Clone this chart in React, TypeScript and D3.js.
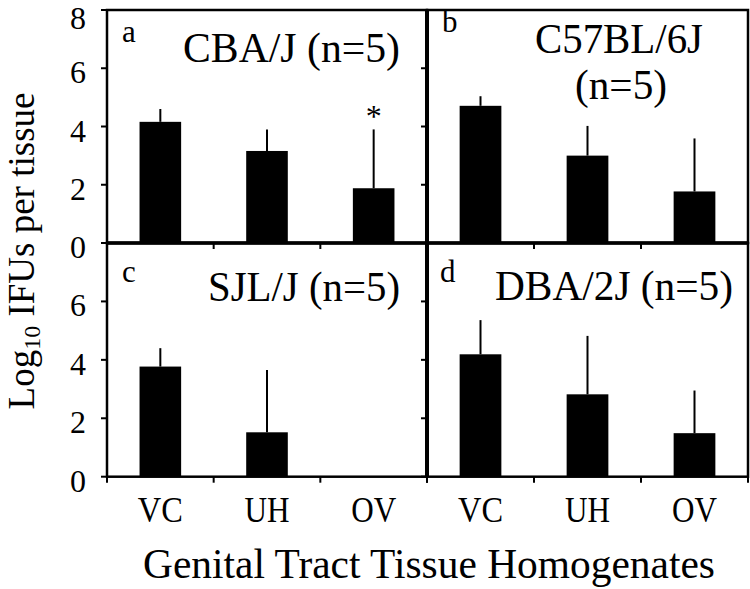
import React from "react";
import * as d3 from "d3";

const categories = ["VC", "UH", "OV"];
const panelLetters = ["a", "b", "c", "d"];
const panelTitles = [["CBA/J (n=5)"], ["C57BL/6J", "(n=5)"], ["SJL/J (n=5)"], ["DBA/2J (n=5)"]];
const cbaMeans = [4.16, 3.16, 1.88];
const cbaErrors = [0.44, 0.74, 2.02];
const c57Means = [4.71, 3.0, 1.77];
const c57Errors = [0.33, 1.02, 1.82];
const sjlMeans = [3.77, 1.52, 0];
const sjlErrors = [0.63, 2.13, 0];
const dbaMeans = [4.19, 2.82, 1.49];
const dbaErrors = [1.17, 2.0, 1.46];
const significant = [[false, false, true], [false, false, false], [false, false, false], [false, false, false]];
const yDomain = [0, 8];
const xAxisTitle = "Genital Tract Tissue Homogenates";

const means = [cbaMeans, c57Means, sjlMeans, dbaMeans];
const errors = [cbaErrors, c57Errors, sjlErrors, dbaErrors];

// layout
const W = 750, H = 589;
const X0 = 107, XM = 427, X1 = 748;
const Y0 = 10, YM = 243, Y1 = 476.7;
const geom = [
  { x0: X0, x1: XM, y0: Y0, y1: YM, col: 0, row: 0 },
  { x0: XM, x1: X1, y0: Y0, y1: YM, col: 1, row: 0 },
  { x0: X0, x1: XM, y0: YM, y1: Y1, col: 0, row: 1 },
  { x0: XM, x1: X1, y0: YM, y1: Y1, col: 1, row: 1 },
];
const letterPos = [
  { dx: 15, dy: 32 },
  { dx: 15, dy: 22 },
  { dx: 15, dy: 39 },
  { dx: 13, dy: 39 },
];
const titlePos = [
  [{ cx: 184.5, dy: 52, len: 217 }],
  [{ cx: 192, dy: 43, len: 168 }, { cx: 194, dy: 89, len: 92 }],
  [{ cx: 197, dy: 58, len: 192 }],
  [{ cx: 187, dy: 57, len: 238 }],
];
const FONT = "'Liberation Serif', 'Times New Roman', Times, serif";
const tStyle = { fontFamily: FONT };

export default function App() {
  return (
    <svg width={W} height={H} style={{ position: "absolute", left: 0, top: 0, background: "#fff", fontFamily: FONT }}>
      <rect x={0} y={0} width={W} height={H} fill="#fff" />
      {geom.map((g, pi) => {
        const x = d3.scaleBand().domain(categories).range([g.x0, g.x1]).paddingInner(0.61).paddingOuter(0.305);
        const y = d3.scaleLinear().domain(yDomain).range([g.y1, g.y0]);
        const step = x.step();
        const bounds = d3.range(categories.length + 1).map((i) => g.x0 + i * step);
        const yTicks = y.ticks(4);
        return (
          <g key={pi}>
            {categories.map((c, i) => {
              const v = means[pi][i];
              const e = errors[pi][i];
              const bx = x(c)!;
              const cx = bx + x.bandwidth() / 2;
              return (
                <g key={c}>
                  {v > 0 && <rect x={bx} y={y(v)} width={x.bandwidth()} height={y(0) - y(v)} fill="#000" />}
                  {e > 0 && <line x1={cx} x2={cx} y1={y(v)} y2={y(v + e)} stroke="#000" strokeWidth={2} />}
                  {significant[pi][i] && (
                    <text x={cx} y={y(v + e) - 2} textAnchor="middle" fontSize={32} style={tStyle}>*</text>
                  )}
                </g>
              );
            })}
            <rect x={g.x0} y={g.y0} width={g.x1 - g.x0} height={g.y1 - g.y0} fill="none" stroke="#000" strokeWidth={2.5} />
            {yTicks.map((t) => (
              <line key={"yt" + t} x1={g.x0 - 6} x2={g.x0} y1={y(t)} y2={y(t)} stroke="#000" strokeWidth={2} />
            ))}
            {g.col === 0 &&
              yTicks
                .filter((t) => g.row === 0 || t < yDomain[1])
                .map((t) => (
                  <text key={"yl" + t} x={86} y={Math.max(y(t) + 15, 29)} textAnchor="end" fontSize={32} style={tStyle}>
                    {t}
                  </text>
                ))}
            {bounds.map((b, i) => (
              <line key={"xt" + i} x1={b} x2={b} y1={g.y1} y2={g.y1 + 6} stroke="#000" strokeWidth={2} />
            ))}
            {g.row === 1 &&
              categories.map((c) => (
                <text
                  key={"xl" + c}
                  x={x(c)! + x.bandwidth() / 2}
                  y={522}
                  textAnchor="middle"
                  fontSize={35}
                  textLength={45}
                  lengthAdjust="spacingAndGlyphs"
                  style={tStyle}
                >
                  {c}
                </text>
              ))}
            <text x={g.x0 + letterPos[pi].dx} y={g.y0 + letterPos[pi].dy} fontSize={31} style={tStyle}>
              {panelLetters[pi]}
            </text>
            {panelTitles[pi].map((line, li) => (
              <text
                key={"ti" + li}
                x={g.x0 + titlePos[pi][li].cx}
                y={g.y0 + titlePos[pi][li].dy}
                textAnchor="middle"
                fontSize={42}
                textLength={titlePos[pi][li].len}
                lengthAdjust="spacingAndGlyphs"
                style={tStyle}
              >
                {line}
              </text>
            ))}
          </g>
        );
      })}
      <line x1={XM} x2={XM} y1={Y0} y2={Y1} stroke="#000" strokeWidth={4} />
      <line x1={X0} x2={X1} y1={YM} y2={YM} stroke="#000" strokeWidth={3.5} />
      <text transform={`translate(34,251) rotate(-90)`} textAnchor="middle" fontSize={37} style={tStyle}>
        Log<tspan fontSize={24} dy={6}>10</tspan>
        <tspan dy={-6}> IFUs per tissue</tspan>
      </text>
      <text x={429} y={578} textAnchor="middle" fontSize={42} textLength={572} lengthAdjust="spacingAndGlyphs" style={tStyle}>
        {xAxisTitle}
      </text>
    </svg>
  );
}
